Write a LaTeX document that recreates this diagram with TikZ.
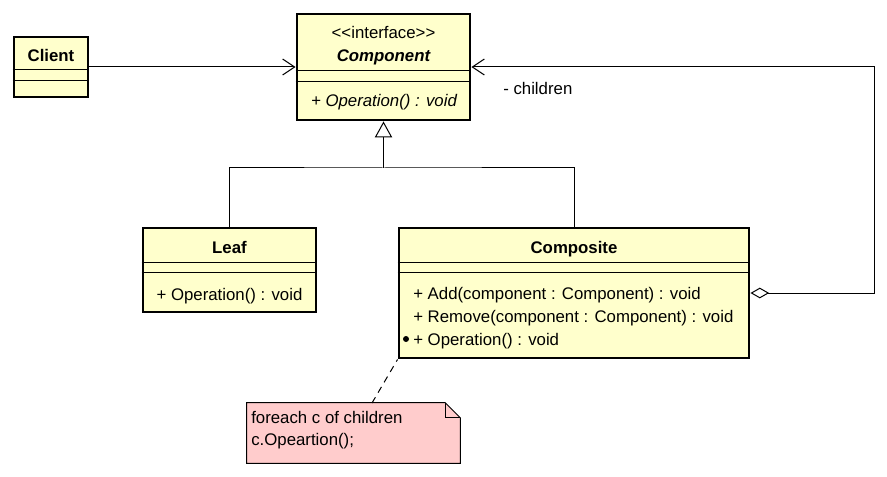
\documentclass[tikz,border=0pt]{standalone}
\usepackage{fontspec}
\setmainfont{Liberation Sans}
\usetikzlibrary{arrows.meta,positioning,calc}

\definecolor{classfill}{HTML}{FFFFCC}
\definecolor{notefill}{HTML}{FFCCCC}

\newcommand{\umlfont}{\fontsize{12.6}{15}\selectfont}

\tikzset{
  umlclass/.style={draw, line width=2.2pt, fill=classfill, inner sep=0pt},
  sep/.style={line width=0.75pt},
  txt/.style={inner sep=0pt, text height=9pt, text depth=0pt, font=\umlfont},
  link/.style={line width=0.75pt},
}

\begin{document}
\begin{tikzpicture}[x=0.75pt, y=-0.75pt]
\useasboundingbox (0,0) rectangle (887,477);

% Class boxes
\node[umlclass, minimum width=55.5pt, minimum height=45pt] (client) at (51,67) {};
\node[umlclass, minimum width=129.75pt, minimum height=79.5pt] (component) at (383.5,67) {};
\node[umlclass, minimum width=129.75pt, minimum height=63pt] (leaf) at (229.5,270) {};
\node[umlclass, minimum width=262.5pt, minimum height=97.5pt] (composite) at (574,293) {};

% Compartment lines
\draw[sep] (client.west |- 0,70) -- (client.east |- 0,70);
\draw[sep] (client.west |- 0,81) -- (client.east |- 0,81);
\draw[sep] (component.west |- 0,71) -- (component.east |- 0,71);
\draw[sep] (component.west |- 0,82) -- (component.east |- 0,82);
\draw[sep] (leaf.west |- 0,262) -- (leaf.east |- 0,262);
\draw[sep] (leaf.west |- 0,272) -- (leaf.east |- 0,272);
\draw[sep] (composite.west |- 0,262) -- (composite.east |- 0,262);
\draw[sep] (composite.west |- 0,272) -- (composite.east |- 0,272);

% Class texts
\node[txt, font=\umlfont\bfseries] (client-name) at (51,56) {Client};
\node[txt] (component-stereo) at (383.5,33) {<{}<interface>{}>};
\node[txt, font=\umlfont\bfseries\itshape] (component-name) at (383.5,56) {Component};
\node[txt, font=\umlfont\itshape] (component-op) at (384,101) {+ Operation() : void};
\node[txt, font=\umlfont\bfseries] (leaf-name) at (229.5,247) {Leaf};
\node[txt] (leaf-op) at (229.5,294) {+ Operation() : void};
\node[txt, font=\umlfont\bfseries] (composite-name) at (574,247) {Composite};
\node[txt, anchor=west] (composite-add) at (413,293) {+ Add(component : Component) : void};
\node[txt, anchor=west] (composite-remove) at (413,316) {+ Remove(component : Component) : void};
\node[txt, anchor=west] (composite-op) at (413,339) {+ Operation() : void};

% Note
\node[minimum width=159.75pt, minimum height=45pt, inner sep=0pt] (note) at (353.5,433) {};
\draw[line width=0.75pt, fill=notefill] (note.south west) -- (note.north west) -- ($(note.north east)+(-15,0)$)
  -- ($(note.north east)+(0,15)$) -- (note.south east) -- cycle;
\draw[line width=0.75pt] ($(note.north east)+(-15,0)$) -- ($(note.north east)+(-15,15)$) -- ($(note.north east)+(0,15)$);
\node[txt, anchor=west] (note-line1) at (251,417) {foreach c of children};
\node[txt, anchor=west] (note-line2) at (251,439) {c.Opeartion();};

% Note anchor
\fill (406,339) circle (3);
\coordinate (note-tail) at (372,403);
\draw[link, dashed, dash pattern=on 5pt off 4pt] (note-tail) -- (composite.south west);

% Association Client -> Component
\draw[link, -{Straight Barb[length=9pt, width=12pt]}] (client.east) -- (component.west);

% Generalization
\draw[link, -{Triangle[open, length=12pt, width=13pt]}] (383.5,168) coordinate (split) -- (component.south);
\draw[link] (leaf.north) |- (split) -| (composite.north);

% Aggregation children
\draw[link, {Diamond[open, length=14pt, width=8pt]}-{Straight Barb[length=9pt, width=12pt]}]
  (composite.east) -- ++(124,0) |- (component.east);
\node[txt, anchor=west] (children) at (503,89) {- children};

\end{tikzpicture}
\end{document}
